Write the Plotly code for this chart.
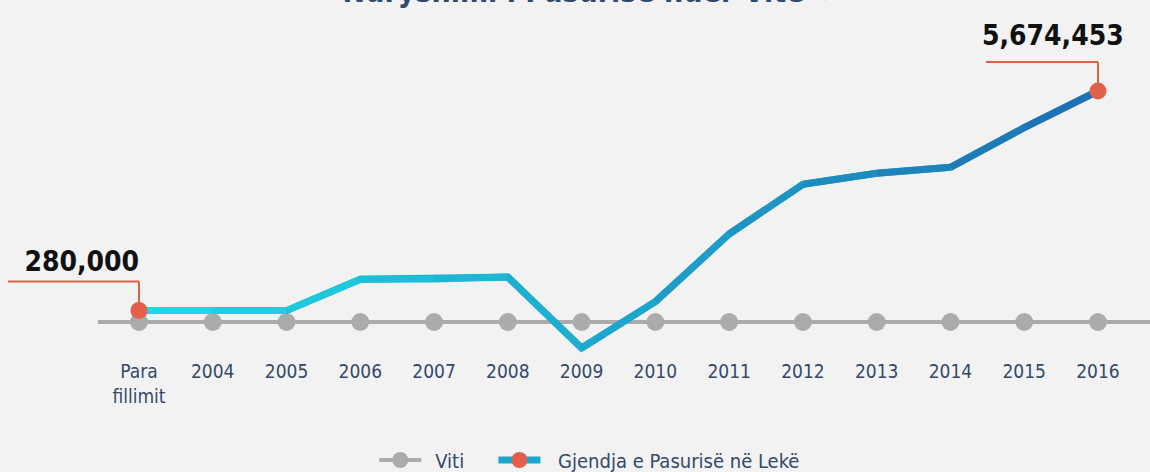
import plotly.graph_objects as go

categories = ["Para<br>fillimit", "2004", "2005", "2006", "2007", "2008", "2009",
              "2010", "2011", "2012", "2013", "2014", "2015", "2016"]
wealth = [280000, 280000, 280000, 1050000, 1056000, 1105000, -640000,
          500000, 2162000, 3383000, 3653000, 3800000, 4773000, 5674453]
viti = [0] * len(categories)
start_label = "280,000"
end_label = "5,674,453"
title_text = "Ndryshimi i Pasurisë ndër Vite"
series_name = "Gjendja e Pasurisë në Lekë"
viti_name = "Viti"

FONT = "DejaVu Sans"
BG = "#f2f2f2"
GRAY = "#ababab"
ORANGE = "#e2604a"
TEXT = "#34496b"
C0 = (27, 221, 231)
C1 = (31, 110, 176)

xs = list(range(len(categories)))
n = len(xs) - 1


def mix(t):
    return "rgb(%d,%d,%d)" % tuple(round(a + (b - a) * t) for a, b in zip(C0, C1))


fig = go.Figure()

fig.add_shape(type="line", xref="x", yref="y", x0=-0.556, x1=14.5, y0=0, y1=0,
              line=dict(color=GRAY, width=4), layer="below")

fig.add_trace(go.Scatter(x=xs, y=viti, mode="lines+markers",
                         name="\u2002" + viti_name + "\u2003",
                         line=dict(color=GRAY, width=4),
                         marker=dict(color=GRAY, size=18), hoverinfo="skip"))

fig.add_trace(go.Scatter(x=xs, y=wealth, mode="lines", showlegend=False,
                         line=dict(color=mix(0.45), width=7), hoverinfo="skip"))
for i in range(n):
    t = (i + 0.5) / n
    fig.add_trace(go.Scatter(x=[xs[i], xs[i + 1]], y=[wealth[i], wealth[i + 1]],
                             mode="lines", showlegend=False,
                             line=dict(color=mix(t), width=7), hoverinfo="skip"))

fig.add_trace(go.Scatter(x=[xs[0], xs[-1]], y=[wealth[0], wealth[-1]], mode="markers",
                         showlegend=False, marker=dict(color=ORANGE, size=17),
                         hoverinfo="skip"))

fig.add_trace(go.Scatter(x=[None], y=[None], mode="lines+markers",
                         name="\u2002\u2009" + series_name,
                         line=dict(color=mix(0.5), width=7),
                         marker=dict(color=ORANGE, size=17)))

for xi, vi, w in [(xs[0], wealth[0], 131), (xs[-1], wealth[-1], 112)]:
    fig.add_shape(type="line", xref="x", yref="y", xsizemode="pixel", ysizemode="pixel",
                  xanchor=xi, yanchor=vi, x0=0, x1=0, y0=0, y1=29,
                  line=dict(color=ORANGE, width=2), layer="below")
    fig.add_shape(type="line", xref="x", yref="y", xsizemode="pixel", ysizemode="pixel",
                  xanchor=xi, yanchor=vi, x0=-w, x1=0, y0=29, y1=29,
                  line=dict(color=ORANGE, width=2), layer="below")

fig.add_annotation(x=xs[0], y=wealth[0], text="<b>%s</b>" % start_label, showarrow=False,
                   xshift=-57, yshift=49, font=dict(family=FONT, size=28, color="#111111"))
fig.add_annotation(x=xs[-1], y=wealth[-1], text="<b>%s</b>" % end_label, showarrow=False,
                   xshift=-45, yshift=56, font=dict(family=FONT, size=28, color="#111111"))

fig.add_annotation(xref="paper", yref="paper", x=0.512, y=1, yanchor="bottom", yshift=-11,
                   showarrow=False,
                   text="<b>%s</b> <span style='color:%s'>↻</span>" % (title_text, ORANGE),
                   font=dict(family=FONT, size=30, color="#2f4a6e"))

px_per_unit = 24565.0
ymax = 322 * px_per_unit
ymin = -(358 - 322) * px_per_unit

fig.update_layout(
    width=1150, height=472,
    margin=dict(l=0, r=0, t=0, b=114, autoexpand=False),
    paper_bgcolor=BG, plot_bgcolor=BG,
    font=dict(family=FONT, size=19, color=TEXT),
    showlegend=True,
    legend=dict(orientation="h", x=0.525, xanchor="center", y=-0.285, yanchor="middle",
                font=dict(family=FONT, size=20, color=TEXT), bgcolor="rgba(0,0,0,0)",
                itemwidth=42),
    xaxis=dict(range=[-1.884, 13.705], tickmode="array", tickvals=xs, ticktext=categories,
               showgrid=False, zeroline=False, showline=False, ticks="",
               tickfont=dict(family=FONT, size=19, color=TEXT), automargin=False,
               fixedrange=True),
    yaxis=dict(range=[ymin, ymax], visible=False, showgrid=False, zeroline=False,
               fixedrange=True),
    hovermode=False,
)

post = """
var st=document.createElement('style');
st.innerHTML='html,body{margin:0;padding:0;overflow:hidden;background:%s;} .js-plotly-plot text{font-stretch:condensed !important;}';
document.head.appendChild(st);
var gd=document.getElementById('{plot_id}');
Plotly.newPlot(gd, gd.data, gd.layout, {displayModeBar:false, responsive:false, staticPlot:true});
""" % BG

fig.write_html("out.html", post_script=post, config={"displayModeBar": False})
